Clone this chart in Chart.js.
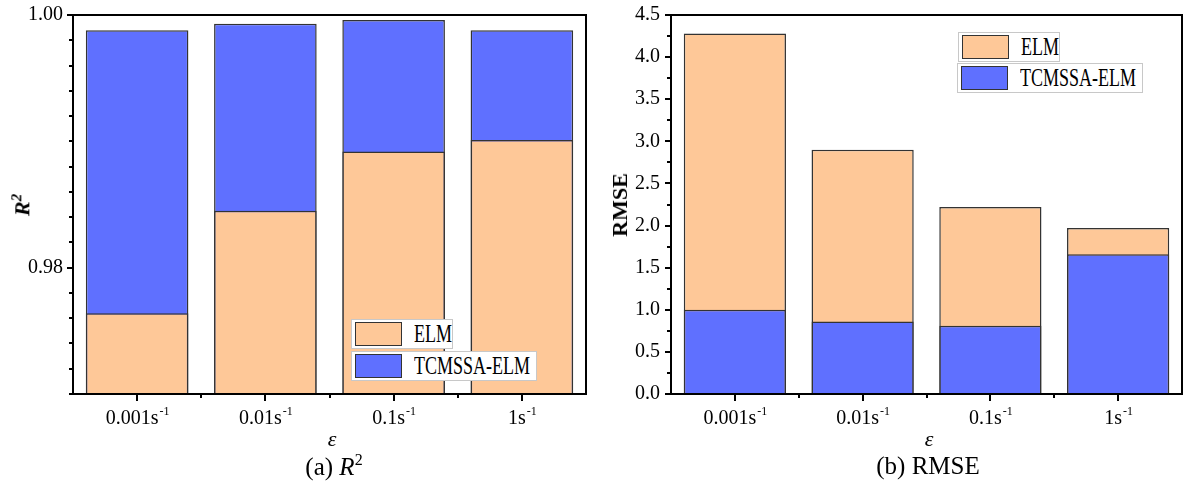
<!DOCTYPE html>
<html>
<head>
<meta charset="utf-8">
<script src="https://cdn.jsdelivr.net/npm/chart.js@4.4.0/dist/chart.umd.min.js"></script>
<style>
  body { margin: 0; width: 1184px; height: 484px; background: #fff; position: relative; overflow: hidden; font-family: "Liberation Serif", "Times New Roman", serif; color: #000; }
  .panel { position: absolute; top: 0; width: 592px; height: 484px; }
  .lbl { position: absolute; transform: translate(-50%, -50%); white-space: nowrap; }
  .ytitle { transform: translate(-50%, -50%) rotate(-90deg); font-weight: bold; font-size: 22px; }
  .caption { font-size: 25px; }
  .eps { font-style: italic; font-size: 22px; }
  .leg { position: absolute; background: #fff; border: 1px solid #c8c8c8; box-sizing: border-box; height: 30px; }
  .sw { position: absolute; left: 3px; top: 2px; width: 47px; height: 24px; box-sizing: border-box; border: 1.5px solid #333; }
  .lt { position: absolute; left: 62px; top: 0; line-height: 28px; font-size: 25px; white-space: nowrap; transform: scaleX(0.72); transform-origin: left center; }
</style>
</head>
<body>
<div class="panel" style="left:0"><canvas id="r2Chart" width="592" height="484"></canvas></div>
<div class="panel" style="left:592px"><canvas id="rmseChart" width="592" height="484"></canvas></div>

<div class="lbl ytitle" style="left:22px; top:205px;"><i>R<sup style="font-size:15px">2</sup></i></div>
<div class="lbl ytitle" style="left:620px; top:205px;">RMSE</div>
<div class="lbl eps" style="left:332px; top:439px;">ε</div>
<div class="lbl eps" style="left:929px; top:439px;">ε</div>
<div class="lbl caption" style="left:334px; top:466px;">(a) <i>R</i><sup style="font-size:16px">2</sup></div>
<div class="lbl caption" style="left:928px; top:466px;">(b) RMSE</div>

<div class="leg" style="left:351px; top:319px; width:102px;"><div class="sw" style="background:#FEC898"></div><div class="lt">ELM</div></div>
<div class="leg" style="left:351px; top:351px; width:186px;"><div class="sw" style="background:#5F70FF"></div><div class="lt">TCMSSA-ELM</div></div>
<div class="leg" style="left:958px; top:32px; width:102px;"><div class="sw" style="background:#FEC898"></div><div class="lt">ELM</div></div>
<div class="leg" style="left:957px; top:63px; width:186px;"><div class="sw" style="background:#5F70FF"></div><div class="lt">TCMSSA-ELM</div></div>

<script>
// strain rates (unit s^-1 drawn as superscript)
const categories = ['0.001', '0.01', '0.1', '1'];
const r2Elm = [0.9764, 0.9845, 0.9892, 0.9901];
const r2Tcmssa = [0.9988, 0.9993, 0.9996, 0.9988];
const rmseElm = [4.28, 2.90, 2.22, 1.97];
const rmseTcmssa = [1.00, 0.86, 0.81, 1.66];
const r2Ticks = [0.98, 1.00];
const rmseTicks = [0, 0.5, 1.0, 1.5, 2.0, 2.5, 3.0, 3.5, 4.0, 4.5];

const ORANGE = '#FEC898';
const BLUE = '#5F70FF';

// frame, major/minor ticks and the x labels with superscript
const axisFrame = {
    id: 'axisFrame',
    afterDatasetsDraw(chart, args, opts) {
        const ctx = chart.ctx;
        const a = chart.chartArea;
        const x = chart.scales.x;
        const y = chart.scales.y;
        ctx.save();
        ctx.strokeStyle = '#000';
        ctx.lineWidth = 2;
        ctx.beginPath();
        // y ticks
        const n = Math.round((y.max - y.min) / opts.minorStep);
        for (let i = 0; i <= n; i++) {
            const v = y.min + i * opts.minorStep;
            const isMajor = opts.majors.some(m => Math.abs(m - v) < opts.minorStep / 10);
            const py = Math.round(y.getPixelForValue(v));
            ctx.moveTo(a.left, py);
            ctx.lineTo(a.left - (isMajor ? 6 : 4), py);
        }
        // x ticks: major at centers, minor between categories
        for (let i = 0; i < categories.length; i++) {
            const px = Math.round(x.getPixelForValue(i));
            ctx.moveTo(px, a.bottom);
            ctx.lineTo(px, a.bottom + 7);
            if (i < categories.length - 1) {
                const mx = Math.round((x.getPixelForValue(i) + x.getPixelForValue(i + 1)) / 2);
                ctx.moveTo(mx, a.bottom);
                ctx.lineTo(mx, a.bottom + 4);
            }
        }
        ctx.stroke();
        ctx.strokeRect(a.left, a.top, a.right - a.left, a.bottom - a.top);

        // x labels
        ctx.fillStyle = '#000';
        ctx.textBaseline = 'alphabetic';
        ctx.textAlign = 'left';
        categories.forEach((c, i) => {
            const main = c + 's';
            const sup = '-1';
            ctx.font = '20px "Liberation Serif"';
            const w1 = ctx.measureText(main).width;
            ctx.font = '12px "Liberation Serif"';
            const w2 = ctx.measureText(sup).width;
            const sx = x.getPixelForValue(i) - (w1 + w2) / 2;
            ctx.font = '20px "Liberation Serif"';
            ctx.fillText(main, sx, 424);
            ctx.font = '12px "Liberation Serif"';
            ctx.fillText(sup, sx + w1 + 1, 415);
        });
        ctx.restore();
    }
};

function makeChart(id, elm, tcmssa, cfg) {
    return new Chart(document.getElementById(id), {
        type: 'bar',
        data: {
            labels: categories,
            datasets: [
                {
                    label: 'ELM', data: elm, backgroundColor: ORANGE,
                    borderColor: '#333', borderWidth: 1.5,
                    categoryPercentage: 0.8, barPercentage: 1, order: cfg.elmOrder
                },
                {
                    label: 'TCMSSA-ELM', data: tcmssa, backgroundColor: BLUE,
                    borderColor: '#333', borderWidth: 1.5,
                    categoryPercentage: 0.8, barPercentage: 1, order: cfg.tcmOrder
                }
            ]
        },
        options: {
            responsive: false,
            animation: false,
            devicePixelRatio: 1,
            layout: { padding: { top: 15, right: cfg.padRight, bottom: 90, left: 0 } },
            plugins: {
                legend: { display: false },
                tooltip: { enabled: false },
                axisFrame: { minorStep: cfg.minorStep, majors: cfg.ticks }
            },
            scales: {
                x: {
                    stacked: true,
                    ticks: { display: false },
                    grid: { display: false, drawTicks: false },
                    border: { display: false },
                    afterFit: s => { s.height = 0; s.paddingLeft = 0; s.paddingRight = 0; }
                },
                y: {
                    stacked: false,
                    min: cfg.min,
                    max: cfg.max,
                    afterBuildTicks: s => { s.ticks = cfg.ticks.map(v => ({ value: v })); },
                    ticks: {
                        color: '#000',
                        padding: cfg.labelPad,
                        font: { family: 'Liberation Serif', size: 20 },
                        callback: v => v.toFixed(cfg.decimals)
                    },
                    grid: { display: false, drawTicks: false },
                    border: { display: false },
                    afterFit: s => { s.width = cfg.axisWidth; s.paddingTop = 0; s.paddingBottom = 0; }
                }
            }
        },
        plugins: [axisFrame]
    });
}

makeChart('r2Chart', r2Elm, r2Tcmssa, {
    min: 0.97, max: 1.0, ticks: r2Ticks, minorStep: 0.002, decimals: 2,
    axisWidth: 73, padRight: 6, labelPad: 10, elmOrder: 1, tcmOrder: 2
});
makeChart('rmseChart', rmseElm, rmseTcmssa, {
    min: 0, max: 4.5, ticks: rmseTicks, minorStep: 0.25, decimals: 1,
    axisWidth: 79, padRight: 2, labelPad: 11, elmOrder: 2, tcmOrder: 1
});
</script>
</body>
</html>
